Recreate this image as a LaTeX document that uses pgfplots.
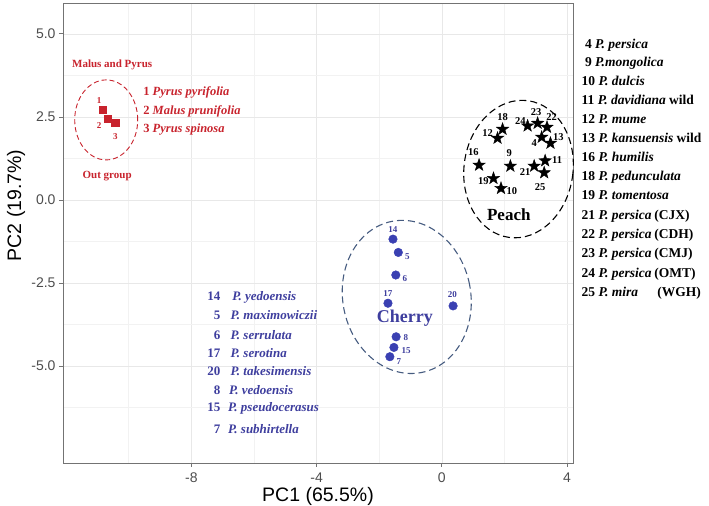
\documentclass[border=0pt]{standalone}
\usepackage{pgfplots}
\pgfplotsset{compat=1.18}
\usepackage{fontspec}
\setmainfont{Liberation Serif}
\setsansfont{Liberation Sans}
\usetikzlibrary{calc}

\definecolor{malred}{RGB}{200,35,45}
\definecolor{chblue}{RGB}{58,64,178}
\definecolor{chtext}{RGB}{62,62,158}
\definecolor{chring}{RGB}{70,92,128}
\definecolor{tickgrey}{RGB}{77,77,77}

% filled five-point star
\pgfdeclareplotmark{fstar}{%
  \pgfpathmoveto{\pgfpointpolar{90}{\pgfplotmarksize}}%
  \pgfpathlineto{\pgfpointpolar{126}{0.4\pgfplotmarksize}}%
  \pgfpathlineto{\pgfpointpolar{162}{\pgfplotmarksize}}%
  \pgfpathlineto{\pgfpointpolar{198}{0.4\pgfplotmarksize}}%
  \pgfpathlineto{\pgfpointpolar{234}{\pgfplotmarksize}}%
  \pgfpathlineto{\pgfpointpolar{270}{0.4\pgfplotmarksize}}%
  \pgfpathlineto{\pgfpointpolar{306}{\pgfplotmarksize}}%
  \pgfpathlineto{\pgfpointpolar{342}{0.4\pgfplotmarksize}}%
  \pgfpathlineto{\pgfpointpolar{18}{\pgfplotmarksize}}%
  \pgfpathlineto{\pgfpointpolar{54}{0.4\pgfplotmarksize}}%
  \pgfpathclose\pgfusepathqfillstroke}

\newcommand{\sz}[1]{\fontsize{#1}{#1}\selectfont}

\begin{document}
\begin{tikzpicture}
\begin{axis}[
  scale only axis, width=510pt, height=460pt,
  xmin=-12.1, xmax=4.19, ymin=-7.92, ymax=5.93,
  clip=false,
  xtick={-8,-4,0,4}, xticklabels={-8,-4,0,4},
  ytick={-5,-2.5,0,2.5,5}, yticklabels={-5.0,-2.5,0.0,2.5,5.0},
  minor xtick={-10,-6,-2,2}, minor ytick={-6.25,-3.75,-1.25,1.25,3.75},
  grid=both,
  major grid style={color=black!9, line width=0.6pt},
  minor grid style={color=black!5, line width=0.5pt},
  axis line style={color=black!55, line width=0.8pt},
  xtick pos=bottom, ytick pos=left, tick align=outside,
  major tick length=4pt, minor tick length=0pt,
  tick style={color=black!55, line width=0.8pt},
  ticklabel style={font=\sffamily\sz{14}, text=tickgrey},
  xticklabel style={yshift=-2pt},
  xlabel={PC1 (65.5\%)}, ylabel={PC2 (19.7\%)},
  label style={font=\sffamily\sz{19.5}},
  xlabel style={at={(rel axis cs:0.5,0)}, anchor=center, yshift=-33pt},
  ylabel style={at={(rel axis cs:0,0.56)}, anchor=center, yshift=47pt},
]
\coordinate (SW) at (rel axis cs:0,0);
\coordinate (NE) at (rel axis cs:1,1);

% group rings
\draw[malred, dashed, dash pattern=on 5pt off 3pt, line width=0.9pt]
  (axis cs:-10.72,2.41) ellipse [x radius=31.5pt, y radius=40pt];
\draw[black, dashed, dash pattern=on 7pt off 4pt, line width=1.1pt, rotate around={-8:(axis cs:2.45,0.93)}]
  (axis cs:2.45,0.93) ellipse [x radius=54.5pt, y radius=69pt];
\draw[chring, dashed, dash pattern=on 7pt off 4pt, line width=1.1pt, rotate around={11:(axis cs:-1.12,-2.92)}]
  (axis cs:-1.12,-2.92) ellipse [x radius=64pt, y radius=77pt];

% Malus and Pyrus (out group)
\addplot[only marks, mark=square*, mark size=3.6pt, color=malred] coordinates {
  (-10.82,2.71) (-10.66,2.44) (-10.43,2.32)};
% Peach
\addplot[only marks, mark=fstar, mark size=6.5pt, color=black] coordinates {
  (3.19,1.89) (2.19,1.02) (1.89,0.35) (3.30,1.18) (1.78,1.86) (3.47,1.71)
  (1.19,1.05) (1.94,2.13) (1.65,0.65) (2.95,1.02) (3.36,2.19) (3.06,2.31)
  (2.74,2.23) (3.27,0.82)};
% Cherry
\addplot[only marks, mark=*, mark size=4.3pt, color=chblue] coordinates {
  (-1.56,-1.18) (-1.39,-1.58) (-1.47,-2.26) (-1.72,-3.11) (0.36,-3.19)
  (-1.46,-4.12) (-1.53,-4.44) (-1.66,-4.72)};

% point numbers
\begin{scope}[font=\bfseries\sz{9}, text=malred, inner sep=0pt]
\node at (axis cs:-10.95,2.98) {1};
\node at (axis cs:-10.95,2.23) {2};
\node at (axis cs:-10.43,1.90) {3};
\end{scope}
\begin{scope}[font=\bfseries\sz{10.5}, inner sep=0pt]
\node at (axis cs:1.94,2.51) {18};
\node at (axis cs:1.46,2.01) {12};
\node at (axis cs:2.51,2.39) {24};
\node at (axis cs:3.01,2.66) {23};
\node at (axis cs:3.51,2.51) {22};
\node at (axis cs:2.95,1.71) {4};
\node at (axis cs:3.72,1.88) {13};
\node at (axis cs:1.01,1.45) {16};
\node at (axis cs:2.15,1.42) {9};
\node at (axis cs:3.68,1.20) {11};
\node at (axis cs:2.66,0.85) {21};
\node at (axis cs:3.14,0.38) {25};
\node at (axis cs:1.33,0.58) {19};
\node at (axis cs:2.24,0.28) {10};
\end{scope}
\begin{scope}[font=\bfseries\sz{9}, text=chtext, inner sep=0pt]
\node at (axis cs:-1.56,-0.90) {14};
\node at (axis cs:-1.10,-1.71) {5};
\node at (axis cs:-1.18,-2.36) {6};
\node at (axis cs:-1.72,-2.81) {17};
\node at (axis cs:0.34,-2.86) {20};
\node at (axis cs:-1.15,-4.15) {8};
\node at (axis cs:-1.14,-4.55) {15};
\node at (axis cs:-1.37,-4.87) {7};
\end{scope}

% group names
\node[font=\bfseries\sz{11}, text=malred] at (axis cs:-10.53,4.07) {Malus and Pyrus};
\node[font=\bfseries\sz{11}, text=malred] at (axis cs:-10.69,0.72) {Out group};
\node[font=\bfseries\sz{17}] at (axis cs:2.14,-0.45) {Peach};
\node[font=\bfseries\sz{18}, text=chtext] at (axis cs:-1.18,-3.55) {Cherry};

% Malus and Pyrus species
\begin{scope}[font=\bfseries\sz{12.5}, text=malred, anchor=mid west, inner sep=0pt]
\node at (axis cs:-9.54,3.22) {1 \textit{Pyrus pyrifolia}};
\node at (axis cs:-9.54,2.65) {2 \textit{Malus prunifolia}};
\node at (axis cs:-9.54,2.11) {3 \textit{Pyrus spinosa}};
\end{scope}

% Cherry species
\begin{scope}[font=\bfseries\sz{13}, text=chtext, inner sep=0pt]
\node[anchor=mid east] at (axis cs:-7.07,-2.96) {14};
\node[anchor=mid east] at (axis cs:-7.07,-3.53) {5};
\node[anchor=mid east] at (axis cs:-7.07,-4.12) {6};
\node[anchor=mid east] at (axis cs:-7.07,-4.67) {17};
\node[anchor=mid east] at (axis cs:-7.07,-5.22) {20};
\node[anchor=mid east] at (axis cs:-7.07,-5.79) {8};
\node[anchor=mid east] at (axis cs:-7.07,-6.30) {15};
\node[anchor=mid east] at (axis cs:-7.07,-6.95) {7};
\node[anchor=mid west] at (axis cs:-6.70,-2.96) {\textit{P. yedoensis}};
\node[anchor=mid west] at (axis cs:-6.75,-3.53) {\textit{P. maximowiczii}};
\node[anchor=mid west] at (axis cs:-6.75,-4.12) {\textit{P. serrulata}};
\node[anchor=mid west] at (axis cs:-6.75,-4.67) {\textit{P. serotina}};
\node[anchor=mid west] at (axis cs:-6.75,-5.22) {\textit{P. takesimensis}};
\node[anchor=mid west] at (axis cs:-6.80,-5.79) {\textit{P. vedoensis}};
\node[anchor=mid west] at (axis cs:-6.83,-6.30) {\textit{P. pseudocerasus}};
\node[anchor=mid west] at (axis cs:-6.83,-6.95) {\textit{P. subhirtella}};
\end{scope}

% Peach species (outside the panel)
\begin{scope}[font=\bfseries\sz{13.5}, anchor=mid west, inner sep=0pt]
\node at (axis cs:4.57,4.64) {4 \textit{P. persica}};
\node at (axis cs:4.57,4.10) {9 \textit{P.mongolica}};
\node at (axis cs:4.46,3.52) {10 \textit{P. dulcis}};
\node at (axis cs:4.46,2.95) {11 \textit{P. davidiana} wild};
\node at (axis cs:4.46,2.38) {12 \textit{P. mume}};
\node at (axis cs:4.46,1.81) {13 \textit{P. kansuensis} wild};
\node at (axis cs:4.46,1.23) {16 \textit{P. humilis}};
\node at (axis cs:4.46,0.66) {18 \textit{P. pedunculata}};
\node at (axis cs:4.46,0.09) {19 \textit{P. tomentosa}};
\node at (axis cs:4.46,-0.51) {21 \textit{P. persica}};
\node at (axis cs:4.46,-1.08) {22 \textit{P. persica}};
\node at (axis cs:4.46,-1.66) {23 \textit{P. persica}};
\node at (axis cs:4.46,-2.26) {24 \textit{P. persica}};
\node at (axis cs:4.46,-2.83) {25 \textit{P. mira}};
\node at (axis cs:6.78,-0.51) {(CJX)};
\node at (axis cs:6.78,-1.08) {(CDH)};
\node at (axis cs:6.78,-1.66) {(CMJ)};
\node at (axis cs:6.78,-2.26) {(OMT)};
\node at (axis cs:6.88,-2.83) {(WGH)};
\end{scope}
\end{axis}
\pgfresetboundingbox
\path ($(SW)+(-63pt,-43pt)$) rectangle ($(NE)+(136pt,3pt)$);
\end{tikzpicture}
\end{document}
